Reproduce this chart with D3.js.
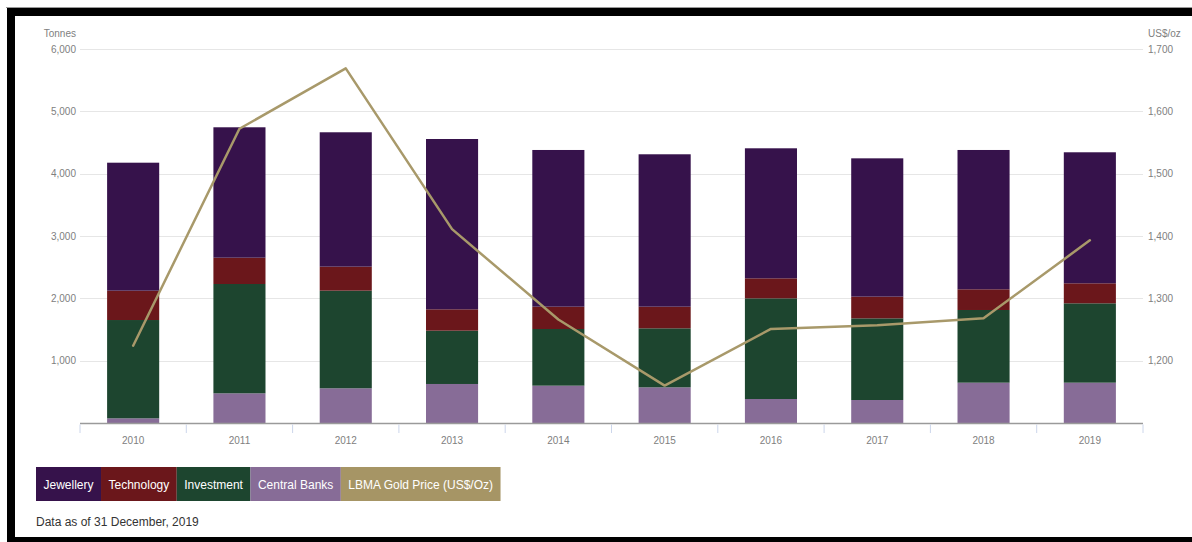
<!DOCTYPE html>
<html>
<head>
<meta charset="utf-8">
<script src="https://cdn.jsdelivr.net/npm/d3@7"></script>
<style>
  html, body { margin: 0; padding: 0; background: #fff; }
  svg { display: block; font-family: "Liberation Sans", Arial, Helvetica, sans-serif; }
</style>
</head>
<body>
<svg id="chart" width="1192" height="542"></svg>
<script>
// ---- Data ----
const years = ["2010","2011","2012","2013","2014","2015","2016","2017","2018","2019"];
const jewellery    = [2053, 2092, 2156, 2732, 2514, 2445, 2086, 2219, 2235, 2102];
const technology   = [471, 422, 385, 343, 358, 347, 321, 348, 332, 321];
const investment   = [1577, 1754, 1566, 855, 909, 947, 1615, 1310, 1166, 1273];
const centralBanks = [75, 476, 557, 626, 599, 572, 385, 369, 647, 647];
const goldPrice    = [1224, 1572, 1669, 1411, 1266, 1160, 1251, 1257, 1268, 1393];
const leftTicks  = [1000, 2000, 3000, 4000, 5000, 6000];
const rightTicks = [1200, 1300, 1400, 1500, 1600, 1700];
const seriesNames = ["Jewellery", "Technology", "Investment", "Central Banks", "LBMA Gold Price (US$/Oz)"];
const seriesColors = ["#36124b", "#6b171b", "#1d452f", "#876c97", "#a69565"];
const footnote = "Data as of 31 December, 2019";

// ---- Layout ----
const svg = d3.select("#chart");
const plot = { left: 80, right: 1143, top: 49, bottom: 423 };

const x = d3.scaleBand().domain(years).range([plot.left, plot.right]).padding(0);
const yL = d3.scaleLinear().domain([0, 6000]).range([plot.bottom, plot.top]);
const yR = d3.scaleLinear().domain([1100, 1700]).range([plot.bottom, plot.top]);
const fmt = d3.format(",");

// gridlines
svg.append("g").selectAll("line").data(leftTicks).join("line")
  .attr("x1", plot.left).attr("x2", plot.right)
  .attr("y1", d => Math.round(yL(d)) + 0.5).attr("y2", d => Math.round(yL(d)) + 0.5)
  .attr("stroke", "#e6e6e6").attr("stroke-width", 1);

// left axis labels
const gl = svg.append("g").attr("transform", `translate(${plot.left - 4},0)`)
  .call(d3.axisLeft(yL).tickValues(leftTicks).tickFormat(fmt).tickSize(0).tickPadding(0));
gl.select(".domain").remove();
gl.selectAll("text").attr("fill", "#808080").style("font-size", "10px")
  .style("font-family", "'Liberation Sans', Arial, sans-serif");

// right axis labels
const gr = svg.append("g").attr("transform", `translate(${plot.right + 5},0)`)
  .call(d3.axisRight(yR).tickValues(rightTicks).tickFormat(fmt).tickSize(0).tickPadding(0));
gr.select(".domain").remove();
gr.selectAll("text").attr("fill", "#808080").style("font-size", "10px")
  .style("font-family", "'Liberation Sans', Arial, sans-serif");

// axis titles
svg.append("text").attr("x", 76).attr("y", 37).attr("text-anchor", "end")
  .attr("fill", "#808080").style("font-size", "10px").text("Tonnes");
svg.append("text").attr("x", 1148).attr("y", 37).attr("text-anchor", "start")
  .attr("fill", "#808080").style("font-size", "10px").text("US$/oz");

// stacked bars
const rows = years.map((yr, i) => ({
  year: yr,
  "Central Banks": centralBanks[i],
  "Investment": investment[i],
  "Technology": technology[i],
  "Jewellery": jewellery[i]
}));
const keys = ["Central Banks", "Investment", "Technology", "Jewellery"];
const colorOf = d3.scaleOrdinal().domain(seriesNames).range(seriesColors);
const stack = d3.stack().keys(keys)(rows);
const bw = x.bandwidth() * 0.49;
const off = (x.bandwidth() - bw) / 2;

svg.append("g").selectAll("g").data(stack).join("g")
  .attr("fill", d => colorOf(d.key))
  .selectAll("rect").data(d => d).join("rect")
  .attr("x", d => x(d.data.year) + off)
  .attr("width", bw)
  .attr("y", d => yL(d[1]))
  .attr("height", d => yL(d[0]) - yL(d[1]));

// x axis baseline and ticks
svg.append("line").attr("x1", plot.left).attr("x2", plot.right)
  .attr("y1", plot.bottom + 0.5).attr("y2", plot.bottom + 0.5)
  .attr("stroke", "#9a9a9a").attr("stroke-width", 1.5);
const boundaries = years.map(y => x(y)).concat([plot.right]);
svg.append("g").selectAll("line").data(boundaries).join("line")
  .attr("x1", d => d).attr("x2", d => d)
  .attr("y1", plot.bottom + 1.5).attr("y2", plot.bottom + 10)
  .attr("stroke", "#ccd6eb").attr("stroke-width", 1);
svg.append("g").selectAll("text").data(years).join("text")
  .attr("x", d => x(d) + x.bandwidth() / 2).attr("y", 444)
  .attr("text-anchor", "middle").attr("fill", "#808080").style("font-size", "10px")
  .text(d => d);

// gold price line
const line = d3.line()
  .x((d, i) => x(years[i]) + x.bandwidth() / 2)
  .y(d => yR(d));
svg.append("path").datum(goldPrice)
  .attr("d", line).attr("fill", "none")
  .attr("stroke", "#a8996a").attr("stroke-width", 2.5)
  .attr("stroke-linejoin", "round").attr("stroke-linecap", "round");

// legend
const lg = svg.append("g").attr("transform", "translate(36,467)");
let lx = 0;
seriesNames.forEach((name, i) => {
  const g = lg.append("g");
  const t = g.append("text").attr("y", 21.5).attr("fill", "#fff")
    .style("font-size", "12px").text(name);
  const w = t.node().getComputedTextLength() + 15;
  g.insert("rect", "text").attr("x", lx).attr("y", 0).attr("width", w).attr("height", 34)
    .attr("fill", seriesColors[i]);
  t.attr("x", lx + w / 2).attr("text-anchor", "middle");
  lx += w;
});

// footnote
svg.append("text").attr("x", 36).attr("y", 526).attr("fill", "#333")
  .style("font-size", "12px").text(footnote);

// frame
svg.append("rect").attr("x", 6).attr("y", 7).attr("width", 1186).attr("height", 1).attr("fill", "#999");
svg.append("rect").attr("x", 7).attr("y", 8).attr("width", 1185).attr("height", 8).attr("fill", "#000");
svg.append("rect").attr("x", 7).attr("y", 8).attr("width", 8).attr("height", 534).attr("fill", "#000");
svg.append("rect").attr("x", 7).attr("y", 537).attr("width", 1185).attr("height", 5).attr("fill", "#000");
</script>
</body>
</html>
